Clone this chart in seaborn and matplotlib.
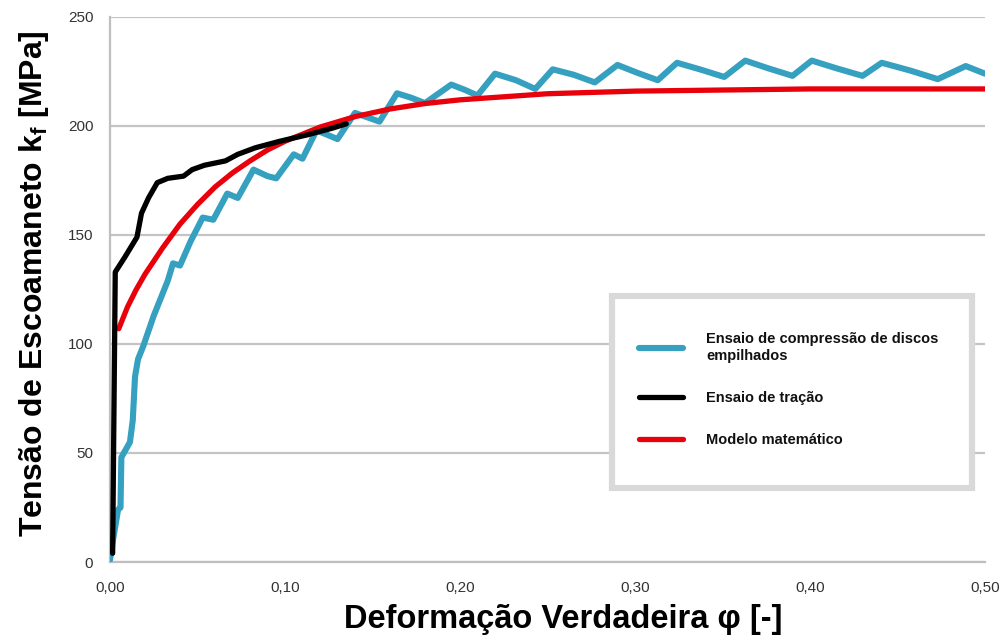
import numpy as np
import pandas as pd
import matplotlib
matplotlib.use("Agg")
import matplotlib.pyplot as plt
from matplotlib.patches import Rectangle
import seaborn as sns

# ---------------- data ----------------
comp_x = [0.000, 0.0017, 0.0046, 0.006, 0.0065, 0.0086, 0.0114, 0.013, 0.0143, 0.016,
          0.019, 0.025, 0.033, 0.036, 0.040, 0.046, 0.053, 0.059, 0.067, 0.073,
          0.082, 0.090, 0.095, 0.105, 0.110, 0.118, 0.130, 0.140, 0.154, 0.164,
          0.172, 0.180, 0.195, 0.203, 0.210, 0.220, 0.232, 0.243, 0.253, 0.265,
          0.277, 0.290, 0.301, 0.313, 0.324, 0.337, 0.351, 0.363, 0.376, 0.390,
          0.401, 0.415, 0.430, 0.441, 0.457, 0.473, 0.489, 0.500]
comp_y = [1, 10, 24, 25, 48, 51, 55, 65, 85, 93,
          99, 113, 129, 137, 136, 147, 158, 157, 169, 167,
          180, 177, 176, 187, 185, 198, 194, 206, 202, 215,
          213, 210.5, 219, 216.5, 214, 224, 221, 217, 226, 223.5,
          220, 228, 224.5, 221, 229, 226, 222.5, 230, 226.5, 223,
          230, 226.5, 223, 229, 225.5, 221.5, 227.5, 224]

trac_x = [0.0015, 0.003, 0.0086, 0.0154, 0.018, 0.022, 0.027, 0.033, 0.042, 0.047,
          0.054, 0.066, 0.073, 0.083, 0.097, 0.113, 0.127, 0.135]
trac_y = [4, 133, 140, 149, 160, 167, 174, 176, 177, 180,
          182, 184, 187, 190, 193, 196, 199, 201]

mod_x = [0.005, 0.010, 0.015, 0.020, 0.030, 0.040, 0.050, 0.060, 0.070, 0.080,
         0.090, 0.100, 0.120, 0.140, 0.160, 0.180, 0.200, 0.250, 0.300, 0.350,
         0.400, 0.450, 0.500]
mod_y = [107, 117, 125, 132, 144, 155, 164, 172, 178.5, 184,
         189, 193, 199.5, 204.3, 207.8, 210.3, 212, 214.8, 216, 216.5,
         217, 217, 217]

labels = ["Ensaio de compressão de discos\nempilhados", "Ensaio de tração", "Modelo matemático"]
colors = ["#35a0bf", "#000000", "#e8000b"]
xticks = [0.0, 0.1, 0.2, 0.3, 0.4, 0.5]
xtick_labels = ["0,00", "0,10", "0,20", "0,30", "0,40", "0,50"]
yticks = [0, 50, 100, 150, 200, 250]

df = pd.concat([
    pd.DataFrame({"x": comp_x, "y": comp_y, "serie": labels[0]}),
    pd.DataFrame({"x": trac_x, "y": trac_y, "serie": labels[1]}),
    pd.DataFrame({"x": mod_x, "y": mod_y, "serie": labels[2]}),
], ignore_index=True)

sns.set_style("white")
plt.rcParams["font.family"] = ["Liberation Sans", "DejaVu Sans"]

fig = plt.figure(figsize=(10.08, 6.41), dpi=100)
ax = fig.add_axes([110 / 1008, 1 - 562 / 641, 875 / 1008, 545 / 641])

widths = [4.4, 3.8, 3.8]
zorders = [3, 5, 4]
for lab, col, lw, zo in zip(labels, colors, widths, zorders):
    sub = df[df["serie"] == lab]
    sns.lineplot(data=sub, x="x", y="y", ax=ax, color=col, linewidth=lw,
                 sort=False, estimator=None, label=lab, zorder=zo,
                 solid_capstyle="round", solid_joinstyle="round")

ax.set_xlim(0, 0.5)
ax.set_ylim(0, 250)
ax.set_xticks(xticks)
ax.set_xticklabels(xtick_labels)
ax.set_yticks(yticks)
ax.yaxis.grid(True, color="#c4c4c4", linewidth=1.6, zorder=0)
ax.xaxis.grid(False)
ax.set_axisbelow(True)
for s in ["top", "right"]:
    ax.spines[s].set_visible(False)
for s in ["left", "bottom"]:
    ax.spines[s].set_color("#bfbfbf")
    ax.spines[s].set_linewidth(1.6)
ax.tick_params(axis="both", which="major", direction="out", length=5, width=1.2,
               color="#bfbfbf", labelsize=11, labelcolor="#333333")
ax.tick_params(axis="x", pad=9)
ax.tick_params(axis="y", pad=7)

ax.set_xlabel("Deformação Verdadeira φ [-]", fontsize=23.5, fontweight="bold",
              color="black")
ax.xaxis.set_label_coords(0.518, -0.077)
ax.set_ylabel(r"Tensão de Escoamaneto k$_\mathregular{f}$ [MPa]", fontsize=23,
              fontweight="bold", color="black")
ax.yaxis.set_label_coords(-0.067, 0.51)

# legend frame box
rect = Rectangle((0.574, 0.136), 0.411, 0.352, transform=ax.transAxes,
                 facecolor="white", edgecolor="#d9d9d9", linewidth=4.5, zorder=6)
ax.add_patch(rect)
leg = ax.legend(loc="upper left", bbox_to_anchor=(0.59, 0.4455), frameon=False,
                handlelength=3.0, handletextpad=1.6, labelspacing=1.95,
                prop={"weight": "bold", "size": 10.5})
leg.set_zorder(7)
for t in leg.get_texts():
    t.set_color("#111111")

fig.savefig("out.png", dpi=100)
